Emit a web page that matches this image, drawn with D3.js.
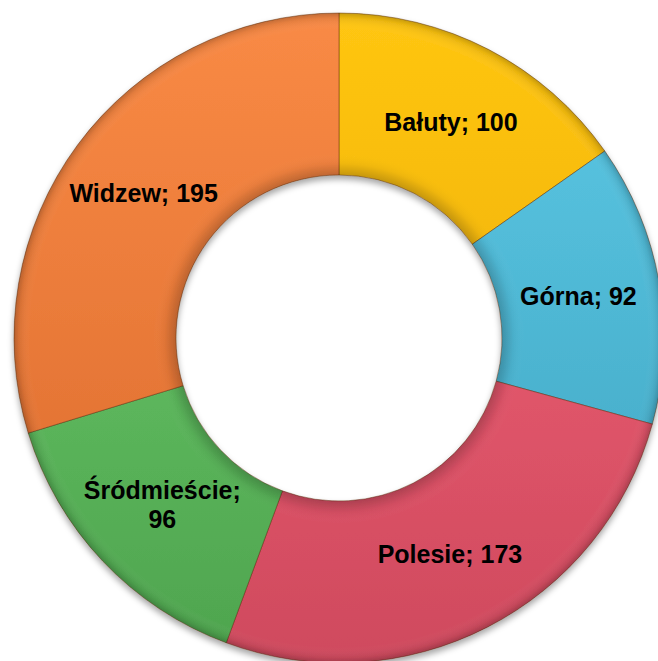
<!DOCTYPE html>
<meta charset="utf-8"/>
<html>
  <head>
    <script src="https://d3js.org/d3.v7.min.js"></script>
    <style>
      body { margin: 0; background: #fff; }
      text { font-family: 'Liberation Sans', Arial, sans-serif; font-weight: bold; }
    </style>
  </head>
  <body>
<script type="text/javascript">
// districts and counts, clockwise from the top
var districts = ['Bałuty', 'Górna', 'Polesie', 'Śródmieście', 'Widzew'];
var counts = [100, 92, 173, 96, 195];
// label lines (Śródmieście wraps onto two lines)
var labelLines = [['Bałuty; 100'], ['Górna; 92'], ['Polesie; 173'], ['Śródmieście;', '96'], ['Widzew; 195']];
var lightColors = ['#ffc612', '#5bc9e6', '#f76379', '#6fcf6f', '#f98a45'];
var darkColors  = ['#e6a400', '#40a3bf', '#cf4a5e', '#4ea44e', '#d9692c'];

var width = 658;
var height = 661;
var cx = 339, cy = 338;
var outerR = 325, innerR = 163;

var svg = d3.select('body').append('svg')
    .attr('width', width)
    .attr('height', height);

var defs = svg.append('defs');

// one vertical gradient per slice, lighter at the top (coords local to the centered group)
districts.forEach(function(d, i) {
  var g = defs.append('linearGradient')
      .attr('id', 'grad' + i)
      .attr('gradientUnits', 'userSpaceOnUse')
      .attr('x1', 0).attr('y1', -outerR)
      .attr('x2', 0).attr('y2', outerR);
  g.append('stop').attr('offset', '0%').attr('stop-color', lightColors[i]);
  g.append('stop').attr('offset', '100%').attr('stop-color', darkColors[i]);
});

// bevel-ish shading across the ring
var bevel = defs.append('radialGradient')
    .attr('id', 'bevel')
    .attr('gradientUnits', 'userSpaceOnUse')
    .attr('cx', 0).attr('cy', 0).attr('r', outerR);
var k = innerR / outerR;
bevel.append('stop').attr('offset', 0).attr('stop-color', '#000').attr('stop-opacity', 0.2);
bevel.append('stop').attr('offset', k).attr('stop-color', '#000').attr('stop-opacity', 0.2);
bevel.append('stop').attr('offset', k + 0.035).attr('stop-color', '#000').attr('stop-opacity', 0.04);
bevel.append('stop').attr('offset', k + 0.07).attr('stop-color', '#fff').attr('stop-opacity', 0.0);
bevel.append('stop').attr('offset', 0.95).attr('stop-color', '#fff').attr('stop-opacity', 0.0);
bevel.append('stop').attr('offset', 0.985).attr('stop-color', '#000').attr('stop-opacity', 0.08);
bevel.append('stop').attr('offset', 1).attr('stop-color', '#000').attr('stop-opacity', 0.22);

var shadow = defs.append('filter')
    .attr('id', 'shadow')
    .attr('x', '-10%').attr('y', '-10%')
    .attr('width', '120%').attr('height', '120%');
shadow.append('feDropShadow')
    .attr('dx', 0).attr('dy', 4)
    .attr('stdDeviation', 3)
    .attr('flood-color', '#000')
    .attr('flood-opacity', 0.35);

var pie = d3.pie().sort(null).value(function(d) { return d; });
var arcs = pie(counts);

var arc = d3.arc().innerRadius(innerR).outerRadius(outerR);
var labelArc = d3.arc().innerRadius(243).outerRadius(243);

var g = svg.append('g')
    .attr('transform', 'translate(' + cx + ',' + cy + ')');

var ring = g.append('g').attr('filter', 'url(#shadow)');

ring.selectAll('path.slice')
    .data(arcs)
    .enter()
    .append('path')
    .attr('class', 'slice')
    .attr('d', arc)
    .attr('fill', function(d, i) { return 'url(#grad' + i + ')'; })
    .attr('stroke', 'rgba(90,45,10,0.45)')
    .attr('stroke-width', 1);

ring.selectAll('path.bevel')
    .data(arcs)
    .enter()
    .append('path')
    .attr('class', 'bevel')
    .attr('d', arc)
    .attr('fill', 'url(#bevel)');

var labels = g.selectAll('text.label')
    .data(arcs)
    .enter()
    .append('text')
    .attr('class', 'label')
    .attr('text-anchor', 'middle')
    .attr('font-size', '25px')
    .attr('fill', '#000')
    .attr('transform', function(d) { return 'translate(' + labelArc.centroid(d) + ')'; });

labels.each(function(d, i) {
  var lines = labelLines[i];
  var t = d3.select(this);
  var lh = 29;
  var y0 = -(lines.length - 1) * lh / 2 + 9;
  lines.forEach(function(s, j) {
    t.append('tspan')
      .attr('x', 0)
      .attr('y', y0 + j * lh)
      .text(s);
  });
});
</script>
  </body>
</html>
